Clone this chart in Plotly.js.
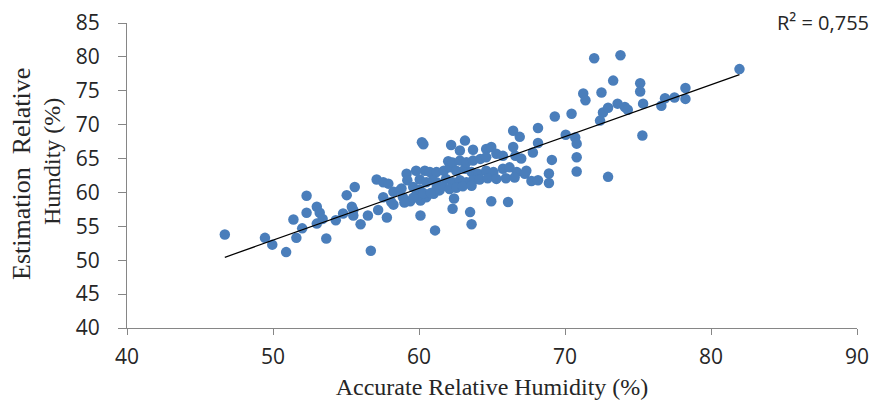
<!DOCTYPE html>
<html>
<head>
<meta charset="utf-8">
<script src="https://cdn.plot.ly/plotly-3.0.1.min.js"></script>
<style>
  html, body { margin: 0; padding: 0; background: #ffffff; }
  #chart { width: 872px; height: 403px; }
</style>
</head>
<body>
<div id="chart"></div>
<script>
// Accurate relative humidity (%) — x values
const accurate = [
  46.7, 49.45, 49.95, 50.9, 51.4, 51.6, 52.0, 52.3, 52.3, 53.0,
  53.2, 53.0, 53.4, 53.65, 54.3, 54.8, 55.05, 55.6, 55.4, 55.5,
  55.5, 56.0, 56.5, 56.7, 57.1, 57.55, 57.9, 57.2, 57.8, 57.55,
  58.25, 58.7, 58.9, 58.25, 59.4, 59.15, 59.2, 59.6, 59.8, 59.8,
  60.1, 60.1, 60.2, 60.3, 60.4, 60.5, 60.75, 61.0, 61.1, 61.2,
  61.2, 61.4, 61.7, 62.0, 62.2, 62.3, 62.4, 62.1, 62.3, 62.55,
  62.8, 62.8, 63.15, 63.15, 63.25, 63.5, 63.6, 63.6, 63.7, 63.7,
  64.05, 64.2, 64.6, 64.6, 64.6, 64.95, 64.95, 65.1, 65.3, 65.75,
  65.75, 66.1, 66.2, 66.45, 66.45, 66.6, 66.7, 66.9, 67.0, 67.25,
  67.35, 67.7, 67.8, 68.15, 68.15, 68.15, 68.9, 68.9, 69.1, 69.3,
  70.05, 70.45, 70.7, 70.8, 70.8, 70.8, 71.25, 71.4, 72.0, 72.4,
  72.5, 72.6, 72.95, 72.95, 73.3, 73.6, 73.8, 74.1, 74.3, 75.15,
  75.15, 75.35, 75.3, 76.6, 76.85, 77.5, 78.25, 78.25, 81.95,
  60.05, 60.5, 60.95, 61.85, 62.3, 62.8, 63.25, 63.7, 64.15, 64.7,
  65.3, 65.95, 66.55,
  58.8, 60.05, 61.2, 61.65, 62.1, 62.55, 63.0, 63.6,
  58.1, 59.0, 59.6, 60.3, 60.8
];
// Estimation relative humidity (%) — y values
const estimated = [
  53.8, 53.3, 52.3, 51.2, 56.0, 53.3, 54.7, 59.5, 57.0, 57.9,
  57.0, 55.4, 56.1, 53.2, 55.9, 56.9, 59.6, 60.8, 57.9, 57.4,
  56.6, 55.3, 56.6, 51.4, 61.9, 61.5, 61.3, 57.4, 56.3, 59.3,
  60.1, 60.3, 59.3, 58.2, 58.7, 62.75, 61.8, 60.8, 59.6, 63.2,
  58.8, 56.6, 67.4, 67.1, 63.2, 59.3, 63.0, 59.8, 54.4, 61.5,
  63.0, 60.3, 63.2, 64.6, 67.0, 57.6, 59.1, 63.7, 64.4, 63.2,
  66.2, 64.7, 67.65, 63.5, 64.45, 57.1, 55.3, 63.0, 66.3, 64.7,
  62.75, 64.95, 66.4, 65.2, 63.2, 66.7, 58.7, 63.0, 65.7, 65.4,
  63.5, 58.6, 63.7, 69.1, 66.7, 65.4, 63.0, 68.2, 65.0, 62.75,
  63.2, 61.7, 65.9, 69.5, 67.3, 61.8, 62.8, 61.4, 64.8, 71.2,
  68.5, 71.6, 68.1, 67.2, 65.2, 63.1, 74.6, 73.6, 79.8, 70.6,
  74.75, 71.8, 72.5, 62.3, 76.5, 73.1, 80.25, 72.6, 72.2, 76.1,
  74.9, 73.1, 68.4, 72.8, 73.9, 74.0, 75.4, 73.8, 78.2,
  61.9, 61.5, 61.8, 62.0, 61.5, 61.8, 61.5, 61.8, 61.9, 62.1,
  62.0, 62.1, 62.2,
  60.6, 60.4, 60.6, 60.9, 60.5, 60.7, 60.9, 61.0,
  58.6, 58.5, 59.2, 59.9, 59.9
];
const xTickValues = [40, 50, 60, 70, 80, 90];
const yTickValues = [40, 45, 50, 55, 60, 65, 70, 75, 80, 85];
const rSquaredLabel = "R\u00b2 = 0,755";
const xTitle = "Accurate Relative Humidity (%)";
const yTitleLine1 = "Estimation\u00a0\u00a0Relative";
const yTitleLine2 = "Humdity (%)";

// Linear least-squares trend line from the data
const n = accurate.length;
const mx = accurate.reduce((a, b) => a + b, 0) / n;
const my = estimated.reduce((a, b) => a + b, 0) / n;
let sxy = 0, sxx = 0;
for (let i = 0; i < n; i++) {
  sxy += (accurate[i] - mx) * (estimated[i] - my);
  sxx += (accurate[i] - mx) * (accurate[i] - mx);
}
const slope = sxy / sxx;
const intercept = my - slope * mx;
const xMin = Math.min(...accurate), xMax = Math.max(...accurate);
const trendX = [xMin, xMax];
const trendY = trendX.map(v => slope * v + intercept);

const axisColor = "#868686";
const sansFamily = "Open Sans, Liberation Sans, sans-serif";
const tickFont = { family: sansFamily, size: 21, color: "#262626" };
const titleFont = { family: "Liberation Serif, Times New Roman, serif", size: 24, color: "#262626" };
const yTitleFont1 = { family: "Liberation Serif, Times New Roman, serif", size: 26, color: "#262626" };

const data = [
  {
    type: "scatter", mode: "markers",
    x: accurate, y: estimated,
    marker: { color: "#4A7EBB", size: 10.5, line: { width: 0 } },
    hoverinfo: "x+y", showlegend: false
  },
  {
    type: "scatter", mode: "lines",
    x: trendX, y: trendY,
    line: { color: "#000000", width: 1.2 },
    hoverinfo: "skip", showlegend: false
  }
];

const layout = {
  width: 872, height: 403,
  margin: { l: 127, r: 15, t: 23, b: 75 },
  paper_bgcolor: "#ffffff", plot_bgcolor: "#ffffff",
  showlegend: false,
  xaxis: {
    range: [40, 90], tickmode: "array", tickvals: xTickValues,
    ticks: "outside", ticklen: 6, tickcolor: axisColor, tickwidth: 1,
    showline: true, linecolor: axisColor, linewidth: 1,
    showgrid: false, zeroline: false,
    tickfont: tickFont, ticklabelstandoff: 4,
    title: { text: xTitle, font: titleFont, standoff: 8 }
  },
  yaxis: {
    range: [40, 85], tickmode: "array", tickvals: yTickValues,
    ticks: "outside", ticklen: 8, tickcolor: axisColor, tickwidth: 1,
    showline: true, linecolor: axisColor, linewidth: 1,
    showgrid: false, zeroline: false,
    tickfont: tickFont, ticklabelstandoff: 14
  },
  annotations: [
    {
      text: yTitleLine1, xref: "paper", yref: "paper",
      x: (22 - 127) / 730, y: (328 - 174) / 305,
      xanchor: "center", yanchor: "middle", textangle: -90,
      showarrow: false, font: yTitleFont1
    },
    {
      text: yTitleLine2, xref: "paper", yref: "paper",
      x: (52 - 127) / 730, y: (328 - 162) / 305,
      xanchor: "center", yanchor: "middle", textangle: -90,
      showarrow: false, font: titleFont
    },
    {
      text: rSquaredLabel, xref: "paper", yref: "paper",
      x: (871 - 127) / 730, y: (328 - 22) / 305,
      xanchor: "right", yanchor: "middle",
      showarrow: false, font: { family: sansFamily, size: 20, color: "#262626" }
    }
  ]
};

Plotly.newPlot("chart", data, layout, { displayModeBar: false, staticPlot: true });
</script>
</body>
</html>
